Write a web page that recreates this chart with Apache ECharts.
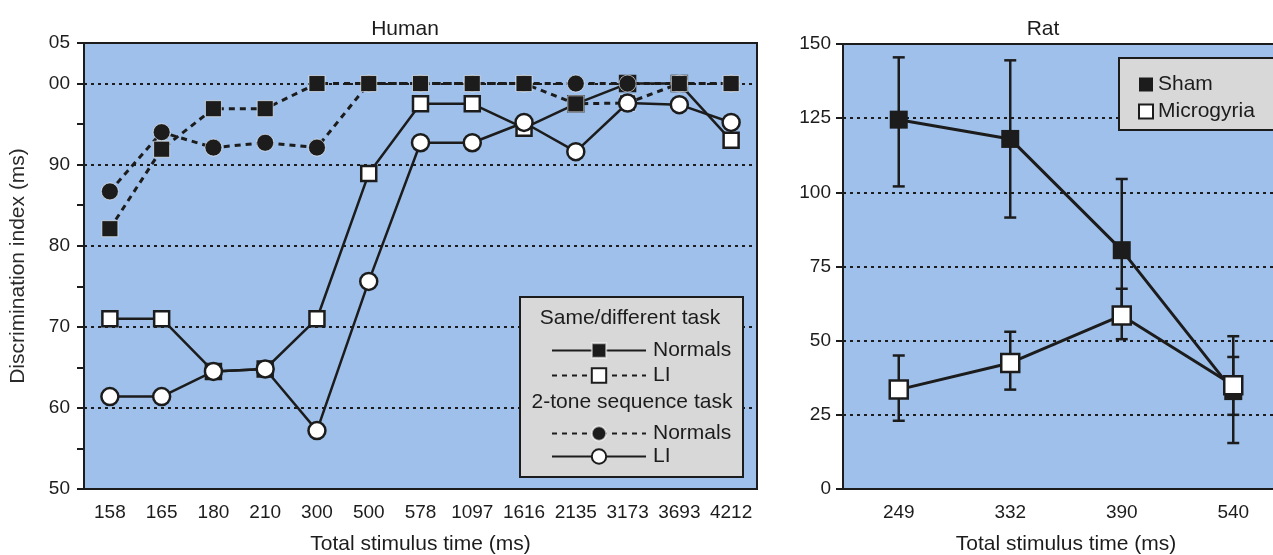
<!DOCTYPE html>
<html>
<head>
<meta charset="utf-8">
<script src="https://cdn.jsdelivr.net/npm/echarts@6/dist/echarts.min.js"></script>
<style>
html,body{margin:0;padding:0;background:#fff;}
#chart{width:1273px;height:555px;}
</style>
</head>
<body>
<div id="chart"></div>
<script>
// ---------- Human panel data ----------
const humanCats = ['158','165','180','210','300','500','578','1097','1616','2135','3173','3693','4212'];
const sdNormals = [82.1, 91.9, 96.9, 96.9, 100, 100, 100, 100, 100, 97.5, 97.6, 100, 100];
const sdLI      = [71, 71, 64.5, 64.8, 71, 88.9, 97.5, 97.5, 94.5, 97.5, 100, 100, 93];
const tsNormals = [86.7, 94, 92.1, 92.7, 92.1, 100, 100, 100, 100, 100, 100, 100, 100];
const tsLI      = [61.4, 61.4, 64.5, 64.8, 57.2, 75.6, 92.7, 92.7, 95.2, 91.6, 97.6, 97.4, 95.2];
const humanYTicks  = [50, 60, 70, 80, 90, 100, 105];
const humanYLabels = ['50', '60', '70', '80', '90', '00', '05'];

// ---------- Rat panel data ----------
const ratCats  = ['249','332','390','540'];
const sham     = [124.5, 118, 80.5, 33];
const shamHi   = [145.5, 144.5, 104.5, 51.5];
const shamLo   = [102, 91.5, 56, 15.5];
const micro    = [33.5, 42.5, 58.5, 35];
const microHi  = [45, 53, 67.5, 44.5];
const microLo  = [23, 33.5, 50.5, 25];

// ---------- Text ----------
const humanTitle = 'Human';
const ratTitle = 'Rat';
const xName = 'Total stimulus time (ms)';
const yName = 'Discrimination index (ms)';
const legendHead1 = 'Same/different task';
const legendHead2 = '2-tone sequence task';
const seriesKeys   = ['sdNormals','sdLI','tsNormals','tsLI','Sham','Microgyria'];
const seriesLabels = ['Normals','LI','Normals','LI','Sham','Microgyria'];

const INK = '#1c1c1c';
const BLUE = '#9ec0ea';
const FONT = '"Liberation Sans", Arial, Helvetica, sans-serif';
const NAMESIZE = 21;
const labelOf = n => seriesLabels[seriesKeys.indexOf(n)];

const chart = echarts.init(document.getElementById('chart'), null, {renderer:'canvas'});

const axisLineStyle = {color: INK, width: 2};
const gridLine = {show: true, lineStyle: {color: [INK, 'rgba(0,0,0,0)'], type: [3, 4], width: 2}};

function errBar(lo, hi) {
  return lo.map((v, i) => [i, v, hi[i]]);
}
function renderErr(params, api) {
  const x = api.value(0);
  const lo = api.coord([x, api.value(1)]);
  const hi = api.coord([x, api.value(2)]);
  const w = 6;
  const st = {stroke: INK, lineWidth: 2.5};
  return {type: 'group', children: [
    {type: 'line', shape: {x1: lo[0], y1: lo[1], x2: hi[0], y2: hi[1]}, style: st},
    {type: 'line', shape: {x1: hi[0]-w, y1: hi[1], x2: hi[0]+w, y2: hi[1]}, style: st},
    {type: 'line', shape: {x1: lo[0]-w, y1: lo[1], x2: lo[0]+w, y2: lo[1]}, style: st}
  ]};
}

const filledSq = {color: INK, borderColor: 'rgba(255,255,255,0.6)', borderWidth: 1};
const openSq = {color: '#fff', borderColor: INK, borderWidth: 2.5};

const option = {
  animation: false,
  textStyle: {fontFamily: FONT, color: INK},
  title: [
    {text: humanTitle, left: 400, top: 14, textAlign: 'center',
     textStyle: {fontFamily: FONT, fontSize: NAMESIZE, fontWeight: 'normal', color: INK}},
    {text: ratTitle, left: 1038, top: 14, textAlign: 'center',
     textStyle: {fontFamily: FONT, fontSize: NAMESIZE, fontWeight: 'normal', color: INK}}
  ],
  grid: [
    {left: 84, top: 43, width: 673, bottom: 66, show: true, backgroundColor: BLUE, borderColor: INK, borderWidth: 2,
     containLabel: false, outerBoundsMode: 'none'},
    {left: 843, top: 44, right: -16, bottom: 66, show: true, backgroundColor: BLUE, borderColor: INK, borderWidth: 2,
     containLabel: false, outerBoundsMode: 'none'}
  ],
  xAxis: [
    {type: 'category', gridIndex: 0, data: humanCats, boundaryGap: true,
     axisLine: {lineStyle: axisLineStyle},
     axisTick: {alignWithLabel: true, length: 9, lineStyle: {color: INK, width: 2}},
     axisLabel: {interval: 0, fontSize: 19, color: INK, fontFamily: FONT, margin: 14},
     name: xName, nameLocation: 'middle', nameGap: 45,
     nameTextStyle: {fontSize: NAMESIZE, color: INK, fontFamily: FONT}},
    {type: 'category', gridIndex: 1, data: ratCats, boundaryGap: true,
     axisLine: {lineStyle: axisLineStyle},
     axisTick: {alignWithLabel: true, length: 9, lineStyle: {color: INK, width: 2}},
     axisLabel: {interval: 0, fontSize: 19, color: INK, fontFamily: FONT, margin: 14},
     name: xName, nameLocation: 'middle', nameGap: 45,
     nameTextStyle: {fontSize: NAMESIZE, color: INK, fontFamily: FONT}}
  ],
  yAxis: [
    {type: 'value', gridIndex: 0, min: 50, max: 105, interval: 5,
     axisLine: {show: true, lineStyle: axisLineStyle},
     axisTick: {show: true, length: 7, lineStyle: {color: INK, width: 2}},
     axisLabel: {fontSize: 19, color: INK, fontFamily: FONT, margin: 14,
       formatter: v => { const k = humanYTicks.indexOf(v); return k >= 0 ? humanYLabels[k] : ''; }},
     splitLine: gridLine,
     name: yName, nameLocation: 'middle', nameGap: 55, nameRotate: 90,
     nameTextStyle: {fontSize: NAMESIZE, color: '#2a2a2a', fontFamily: FONT}},
    {type: 'value', gridIndex: 1, min: 0, max: 150, interval: 25,
     axisLine: {show: true, lineStyle: axisLineStyle},
     axisTick: {show: true, length: 7, lineStyle: {color: INK, width: 2}},
     axisLabel: {fontSize: 19, color: INK, fontFamily: FONT, margin: 12},
     splitLine: {show: true, lineStyle: {color: INK, type: [3, 4], width: 2}}}
  ],
  legend: [
    {left: 546, top: 335, orient: 'vertical', itemWidth: 94, itemHeight: 18, itemGap: 4,
     selectedMode: false, formatter: labelOf,
     textStyle: {fontSize: NAMESIZE, color: INK, fontFamily: FONT, padding: [0,0,0,2]},
     data: [
       {name: 'sdNormals', lineStyle: {type: 'solid'}},
       {name: 'sdLI', lineStyle: {type: [5, 5]}}
     ]},
    {left: 546, top: 418, orient: 'vertical', itemWidth: 94, itemHeight: 18, itemGap: 2,
     selectedMode: false, formatter: labelOf,
     textStyle: {fontSize: NAMESIZE, color: INK, fontFamily: FONT, padding: [0,0,0,2]},
     data: [
       {name: 'tsNormals', lineStyle: {type: [5, 5]}},
       {name: 'tsLI', lineStyle: {type: 'solid'}}
     ]},
    {left: 1133, top: 69, orient: 'vertical', itemWidth: 14, itemHeight: 14, itemGap: 6,
     selectedMode: false, formatter: labelOf,
     textStyle: {fontSize: NAMESIZE, color: INK, fontFamily: FONT},
     data: [
       {name: 'Sham', icon: 'rect', itemStyle: {color: INK, borderWidth: 0}},
       {name: 'Microgyria', icon: 'rect', itemStyle: {color: '#fff', borderColor: INK, borderWidth: 2}}
     ]}
  ],
  graphic: [
    {type: 'rect', z: 3, shape: {x: 520, y: 297, width: 223, height: 180},
     style: {fill: '#d8d8d8', stroke: INK, lineWidth: 2}},
    {type: 'text', z: 4, x: 630, y: 318, style: {text: legendHead1, fontSize: NAMESIZE, fontFamily: FONT, fill: INK, align: 'center', verticalAlign: 'middle'}},
    {type: 'text', z: 4, x: 632, y: 402, style: {text: legendHead2, fontSize: NAMESIZE, fontFamily: FONT, fill: INK, align: 'center', verticalAlign: 'middle'}},
    {type: 'rect', z: 3, shape: {x: 1119, y: 58, width: 170, height: 72},
     style: {fill: '#d8d8d8', stroke: INK, lineWidth: 2}}
  ],
  series: [
    {name: 'sdLI', type: 'line', xAxisIndex: 0, yAxisIndex: 0, data: sdLI,
     symbol: 'rect', symbolSize: 15, lineStyle: {color: INK, width: 2.5, type: 'solid'},
     itemStyle: openSq, z: 5},
    {name: 'tsNormals', type: 'line', xAxisIndex: 0, yAxisIndex: 0, data: tsNormals,
     symbol: 'circle', symbolSize: 17, lineStyle: {color: INK, width: 3, type: [6, 5]},
     itemStyle: filledSq, z: 6},
    {name: 'sdNormals', type: 'line', xAxisIndex: 0, yAxisIndex: 0, data: sdNormals,
     symbol: 'rect', symbolSize: 16, lineStyle: {color: INK, width: 3, type: [6, 5]},
     itemStyle: filledSq, z: 7},
    {name: 'tsLI', type: 'line', xAxisIndex: 0, yAxisIndex: 0, data: tsLI,
     symbol: 'circle', symbolSize: 17, lineStyle: {color: INK, width: 2.5, type: 'solid'},
     itemStyle: openSq, z: 8},

    {name: 'shamErr', type: 'custom', xAxisIndex: 1, yAxisIndex: 1, data: errBar(shamLo, shamHi),
     renderItem: renderErr, z: 4, silent: true},
    {name: 'microErr', type: 'custom', xAxisIndex: 1, yAxisIndex: 1, data: errBar(microLo, microHi),
     renderItem: renderErr, z: 4, silent: true},
    {name: 'Sham', type: 'line', xAxisIndex: 1, yAxisIndex: 1, data: sham,
     symbol: 'rect', symbolSize: 18, lineStyle: {color: INK, width: 3},
     itemStyle: {color: INK}, z: 6},
    {name: 'Microgyria', type: 'line', xAxisIndex: 1, yAxisIndex: 1, data: micro,
     symbol: 'rect', symbolSize: 18, lineStyle: {color: INK, width: 3},
     itemStyle: openSq, z: 7}
  ]
};
chart.setOption(option);
</script>
</body>
</html>
